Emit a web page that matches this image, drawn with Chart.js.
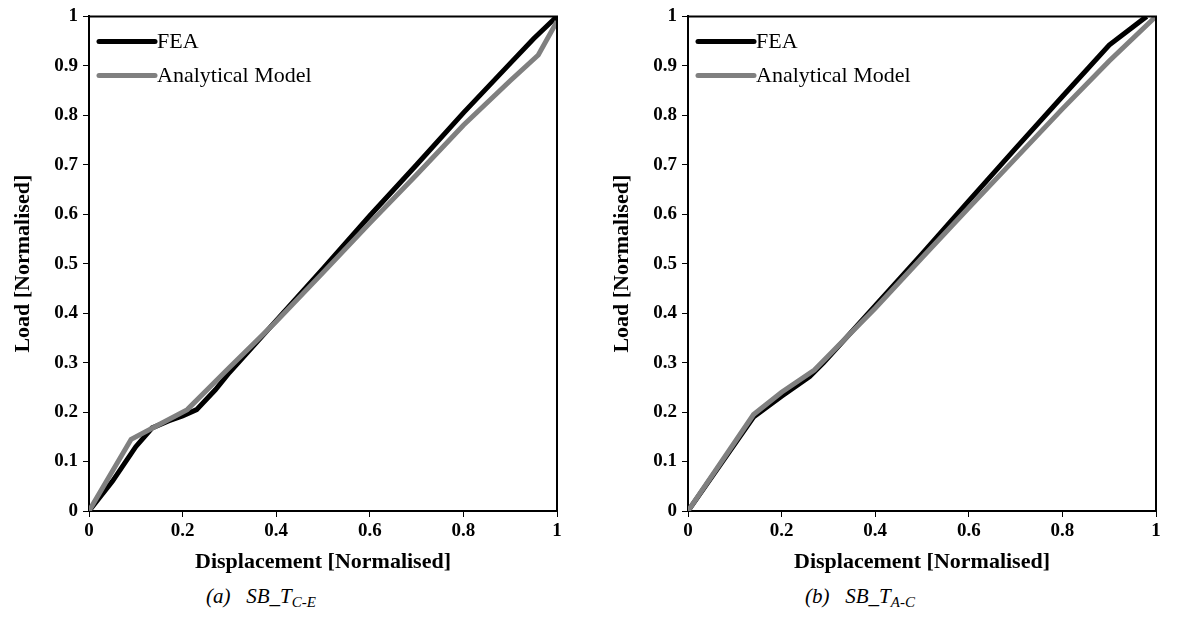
<!DOCTYPE html>
<html>
<head>
<meta charset="utf-8">
<script src="https://cdn.jsdelivr.net/npm/chart.js@4/dist/chart.umd.min.js"></script>
<style>
  html, body { margin: 0; padding: 0; background: #fff; }
  body { width: 1182px; height: 623px; position: relative; overflow: hidden; }
  .box { position: absolute; top: 0; width: 590px; height: 576px; }
  .cap { position: absolute; top: 584px; font-family: "Liberation Serif", serif; font-style: italic; font-size: 21px; color: #000; white-space: pre; }
  .cap sub { font-size: 15px; vertical-align: -4px; }
</style>
</head>
<body>
<div class="box" style="left:0px"><canvas id="c1"></canvas></div>
<div class="box" style="left:599px"><canvas id="c2"></canvas></div>
<div class="cap" style="left:206px">(a)   SB_T<sub>C-E</sub></div>
<div class="cap" style="left:805px">(b)   SB_T<sub>A-C</sub></div>
<script>
// ---- data ----
const seriesNames = ["FEA", "Analytical Model"];
const xTickValues = [0, 0.2, 0.4, 0.6, 0.8, 1];
const xTickLabels = ["0", "0.2", "0.4", "0.6", "0.8", "1"];
const yTickValues = [0, 0.1, 0.2, 0.3, 0.4, 0.5, 0.6, 0.7, 0.8, 0.9, 1];
const yTickLabels = ["0", "0.1", "0.2", "0.3", "0.4", "0.5", "0.6", "0.7", "0.8", "0.9", "1"];

// (a) SB_T C-E
const feaA_x = [0, 0.05, 0.10, 0.135, 0.17, 0.20, 0.23, 0.27, 0.30, 0.40, 0.50, 0.60, 0.70, 0.80, 0.90, 0.95, 1.0];
const feaA_y = [0, 0.06, 0.13, 0.168, 0.182, 0.192, 0.205, 0.245, 0.28, 0.385, 0.49, 0.597, 0.70, 0.805, 0.905, 0.955, 1.0];
const anaA_x = [0, 0.09, 0.15, 0.21, 0.30, 0.40, 0.50, 0.60, 0.70, 0.80, 0.90, 0.96, 1.0];
const anaA_y = [0, 0.145, 0.175, 0.205, 0.29, 0.383, 0.482, 0.582, 0.68, 0.78, 0.87, 0.922, 0.99];

// (b) SB_T A-C
const feaB_x = [0, 0.07, 0.14, 0.20, 0.26, 0.29, 0.40, 0.50, 0.60, 0.70, 0.80, 0.90, 0.98];
const feaB_y = [0, 0.095, 0.19, 0.232, 0.272, 0.30, 0.415, 0.52, 0.627, 0.733, 0.838, 0.942, 1.0];
const anaB_x = [0, 0.14, 0.20, 0.27, 0.40, 0.50, 0.60, 0.70, 0.80, 0.90, 1.0];
const anaB_y = [0, 0.195, 0.24, 0.285, 0.41, 0.512, 0.613, 0.713, 0.813, 0.91, 1.0];

const seriesColors = ["#000000", "#808080"];

function pts(xs, ys) { return xs.map((x, i) => ({ x: x, y: ys[i] })); }
function labelFor(values, labels, v) {
  const i = values.findIndex(t => Math.abs(t - v) < 1e-9);
  return i >= 0 ? labels[i] : '';
}

const frameAndLegend = {
  id: 'frameAndLegend',
  afterDatasetsDraw(chart) {
    const a = chart.chartArea, ctx = chart.ctx;
    ctx.save();
    ctx.strokeStyle = '#000';
    ctx.lineWidth = 2;
    ctx.beginPath();
    ctx.moveTo(a.left, a.top); ctx.lineTo(a.right, a.top); ctx.lineTo(a.right, a.bottom);
    ctx.stroke();
    // legend
    ctx.font = '22px "Liberation Serif"';
    ctx.textBaseline = 'middle';
    ctx.textAlign = 'left';
    seriesNames.forEach((name, i) => {
      const y = a.top + 25 + i * 34;
      ctx.strokeStyle = seriesColors[i];
      ctx.lineWidth = 5;
      ctx.lineCap = 'round';
      ctx.beginPath(); ctx.moveTo(a.left + 10, y); ctx.lineTo(a.left + 66, y); ctx.stroke();
      ctx.fillStyle = '#000';
      ctx.fillText(name, a.left + 68, y + 1);
    });
    ctx.restore();
  }
};

function makeChart(id, feaPts, anaPts) {
  return new Chart(document.getElementById(id), {
    type: 'scatter',
    data: {
      datasets: [
        { label: seriesNames[0], data: feaPts, showLine: true, borderColor: seriesColors[0], borderWidth: 5, pointRadius: 0, order: 2, tension: 0 },
        { label: seriesNames[1], data: anaPts, showLine: true, borderColor: seriesColors[1], borderWidth: 5, pointRadius: 0, order: 1, tension: 0 }
      ]
    },
    options: {
      responsive: true,
      maintainAspectRatio: false,
      animation: false,
      layout: { padding: { top: 16, right: 33, left: 0, bottom: 0 } },
      plugins: { legend: { display: false }, tooltip: { enabled: false } },
      scales: {
        x: {
          type: 'linear', min: 0, max: 1,
          afterBuildTicks: (s) => { s.ticks = xTickValues.map(v => ({ value: v })); },
          afterFit: (s) => { s.height = 65; },
          grid: { drawOnChartArea: false, drawTicks: true, tickLength: 6, color: '#000', lineWidth: 1 },
          border: { display: true, color: '#000', width: 2 },
          ticks: { color: '#000', padding: 3, maxRotation: 0, callback: (v) => labelFor(xTickValues, xTickLabels, v), font: { family: 'Liberation Serif', size: 19, weight: 'bold' } },
          title: { display: true, text: 'Displacement [Normalised]', color: '#000', padding: { top: 4, bottom: 0 }, font: { family: 'Liberation Serif', size: 22, weight: 'bold' } }
        },
        y: {
          type: 'linear', min: 0, max: 1,
          afterBuildTicks: (s) => { s.ticks = yTickValues.map(v => ({ value: v })); },
          afterFit: (s) => { s.width = 89; },
          grid: { drawOnChartArea: false, drawTicks: true, tickLength: 6, color: '#000', lineWidth: 1 },
          border: { display: true, color: '#000', width: 2 },
          ticks: { color: '#000', padding: 5, callback: (v) => labelFor(yTickValues, yTickLabels, v), font: { family: 'Liberation Serif', size: 19, weight: 'bold' } },
          title: { display: true, text: 'Load [Normalised]', color: '#000', padding: { top: 10, bottom: 0 }, font: { family: 'Liberation Serif', size: 22, weight: 'bold' } }
        }
      }
    },
    plugins: [frameAndLegend]
  });
}

makeChart('c1', pts(feaA_x, feaA_y), pts(anaA_x, anaA_y));
makeChart('c2', pts(feaB_x, feaB_y), pts(anaB_x, anaB_y));
</script>
</body>
</html>
